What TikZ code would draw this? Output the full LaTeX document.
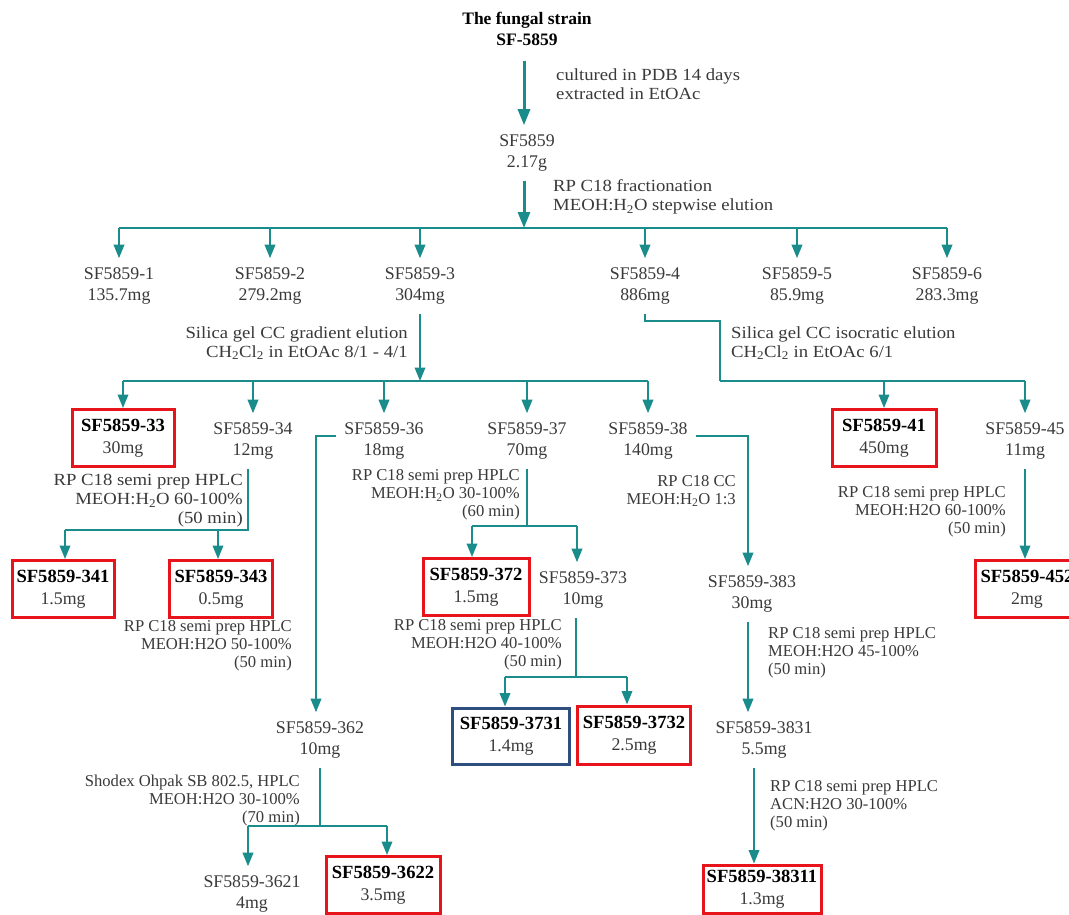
\documentclass[tikz,border=0pt]{standalone}
\usepackage{fontspec}
\setmainfont{Liberation Serif}
\newfontfamily\widefam{Liberation Serif}[FakeStretch=1.1]
\usetikzlibrary{arrows.meta}
\definecolor{tealc}{HTML}{1A8C8C}
\definecolor{redc}{HTML}{E8141C}
\definecolor{bluec}{HTML}{2E4E7E}
\definecolor{txtc}{HTML}{3A3A3A}
\newcommand{\nfont}{\fontsize{17.8}{21.5}\selectfont}
\newcommand{\lfont}{\fontsize{16.6}{18}\selectfont}
\newcommand{\tfont}{\widefam\fontsize{17}{19}\selectfont}
\newcommand{\bname}[1]{\textcolor{black}{\fontsize{18.6}{21.5}\selectfont\textbf{#1}}}
\newcommand{\sub}[1]{\textsubscript{#1}}
\begin{document}
\begin{tikzpicture}[x=1pt,y=-1pt,
  conn/.style={draw=tealc, line width=2pt},
  stem/.style={draw=tealc, line width=1.5pt},
  arr/.style={conn, -{Triangle[width=10.5pt,length=13.5pt]}},
  arrT/.style={draw=tealc, line width=3pt, -{Triangle[width=12pt,length=16pt]}},
  frac/.style={font=\nfont, text=txtc, align=center, inner xsep=2pt, inner ysep=9pt},
  lblR/.style={font=\lfont, text=txtc, align=right, inner sep=0pt, anchor=east},
  lblL/.style={font=\lfont, text=txtc, align=left, inner sep=0pt, anchor=west},
  hit/.style={font=\nfont, text=txtc, align=center, draw=redc, line width=3pt, inner sep=0pt, minimum width=#1, minimum height=57pt},
]
\useasboundingbox (0,0) rectangle (1069,914);
\fill[white] (0,0) rectangle (1069,914);

% ---- nodes ----
\node[frac, font=\fontsize{17.5}{21}\selectfont\bfseries, text=black] (title) at (527,29) {The fungal strain\\SF-5859};
\node[frac] (src) at (527,153) {SF5859\\2.17g};

\node[frac] (f1) at (119,286) {SF5859-1\\135.7mg};
\node[frac] (f2) at (270,286) {SF5859-2\\279.2mg};
\node[frac] (f3) at (420,286) {SF5859-3\\304mg};
\node[frac] (f4) at (645,286) {SF5859-4\\886mg};
\node[frac] (f5) at (797,286) {SF5859-5\\85.9mg};
\node[frac] (f6) at (947,286) {SF5859-6\\283.3mg};

\node[hit=102] (n33) at (123,438) {\bname{SF5859-33}\\30mg};
\node[frac] (n34) at (253,441) {SF5859-34\\12mg};
\node[frac] (n36) at (384,441) {SF5859-36\\18mg};
\node[frac] (n37) at (527,441) {SF5859-37\\70mg};
\node[frac] (n38) at (648,441) {SF5859-38\\140mg};
\node[hit=104] (n41) at (884,438) {\bname{SF5859-41}\\450mg};
\node[frac] (n45) at (1025,441) {SF5859-45\\11mg};

\node[hit=102] (n341) at (63,589) {\bname{SF5859-341}\\1.5mg};
\node[hit=103] (n343) at (221,589) {\bname{SF5859-343}\\0.5mg};
\node[hit=106] (n372) at (476,587) {\bname{SF5859-372}\\1.5mg};
\node[frac] (n373) at (583,590) {SF5859-373\\10mg};
\node[frac] (n383) at (752,594) {SF5859-383\\30mg};
\node[hit=104] (n452) at (1027,589) {\bname{SF5859-452}\\2mg};

\node[hit=117, draw=bluec, minimum height=56pt] (n3731) at (511,736) {\bname{SF5859-3731}\\1.4mg};
\node[hit=113, minimum height=58pt] (n3732) at (634,735) {\bname{SF5859-3732}\\2.5mg};
\node[frac] (n362) at (320,740) {SF5859-362\\10mg};
\node[frac] (n3831) at (764,740) {SF5859-3831\\5.5mg};

\node[frac] (n3621) at (252,894) {SF5859-3621\\4mg};
\node[hit=114] (n3622) at (383,885) {\bname{SF5859-3622}\\3.5mg};
\node[hit=118, minimum height=48pt] (n38311) at (762,889) {\bname{SF5859-38311}\\1.3mg};

% ---- labels ----
\node[lblL, font=\tfont] (l1) at (556,84) {cultured in PDB 14 days\\extracted in EtOAc};
\node[lblL, font=\tfont] (l2) at (553,197) {RP C18 fractionation\\MEOH:H\sub{2}O stepwise elution};
\node[lblR, font=\tfont, align=right] (l3) at (408,343) {Silica gel CC gradient elution\\CH\sub{2}Cl\sub{2} in EtOAc 8/1 - 4/1};
\node[lblL, font=\tfont] (l4) at (731,343) {Silica gel CC isocratic elution\\CH\sub{2}Cl\sub{2} in EtOAc 6/1};
\node[lblR, font=\tfont, align=right] (l5) at (243,501) {RP C18 semi prep HPLC\\MEOH:H\sub{2}O 60-100\%\\(50 min)};
\node[lblR] (l6) at (520,495) {RP C18 semi prep HPLC\\MEOH:H\sub{2}O 30-100\%\\(60 min)};
\node[lblR] (l7) at (736,491) {RP C18 CC\\MEOH:H\sub{2}O 1:3};
\node[lblR] (l8) at (1006,512) {RP C18 semi prep HPLC\\MEOH:H2O 60-100\%\\(50 min)};
\node[lblR] (l9) at (292,646) {RP C18 semi prep HPLC\\MEOH:H2O 50-100\%\\(50 min)};
\node[lblR] (l10) at (562,645) {RP C18 semi prep HPLC\\MEOH:H2O 40-100\%\\(50 min)};
\node[lblL] (l11) at (768,653) {RP C18 semi prep HPLC\\MEOH:H2O 45-100\%\\(50 min)};
\node[lblR] (l12) at (300,800) {Shodex Ohpak SB 802.5, HPLC\\MEOH:H2O 30-100\%\\(70 min)};
\node[lblL] (l13) at (770,806) {RP C18 semi prep HPLC\\ACN:H2O 30-100\%\\(50 min)};

% ---- coordinates ----
\coordinate (b1) at (524,228);
\coordinate (b2) at (420,381);
\coordinate (k1) at (720,321);
\coordinate (b3) at (720,381);
\coordinate (b4) at (248,530);
\coordinate (a341) at (65,530);
\coordinate (a343) at (218,530);
\coordinate (k2) at (316,436);
\coordinate (b5) at (527,526);
\coordinate (a372) at (472,526);
\coordinate (a373) at (577,526);
\coordinate (k3) at (748,436);
\coordinate (b6) at (576,677);
\coordinate (a3731) at (505,677);
\coordinate (a3732) at (627,677);
\coordinate (b7) at (320,826);
\coordinate (a3621) at (248,826);
\coordinate (a3622) at (387,826);
\coordinate (x3831) at (754,0);

% ---- connectors ----
\draw[arrT] (title.south -| b1) ++(0,6) -- (b1 |- src.north);
\draw[arrT] (src.south -| b1) -- (b1);
\draw[conn] (f1.north |- b1) -- (f6.north |- b1);
\foreach \n in {f1,f2,f3,f4,f5,f6} \draw[arr] (\n.north |- b1) -- (\n.north);

\draw[arr] (f3.south) -- (b2);
\draw[conn] (n33.north |- b2) -- (n38.north |- b2);
\foreach \n in {n33,n34,n36,n37,n38} \draw[arr] (\n.north |- b2) -- (\n.north);

\draw[stem] (f4.south) |- (k1) -- (b3);
\draw[conn] (b3) -- (n45.north |- b3);
\draw[arr] (n41.north |- b3) -- (n41.north);
\draw[arr] (n45.north |- b3) -- (n45.north);

\draw[stem] (b4 |- n34.south) -- (b4) -- (a341);
\draw[arr] (a341) -- (a341 |- n341.north);
\draw[arr] (a343) -- (a343 |- n343.north);

\draw[arr, shorten <=6pt] (n36.west |- k2) -- (k2) -- (k2 |- n362.north);

\draw[stem] (n37.south) -- (b5);
\draw[conn] (a372) -- (a373);
\draw[arr] (a372) -- (a372 |- n372.north);
\draw[arr] (a373) -- (a373 |- n373.north);

\draw[arr] ([xshift=6pt]n38.east |- k3) -- (k3) -- (k3 |- n383.north);

\draw[arr] (n45.south) -- (n45.south |- n452.north);

\draw[stem] (b6 |- n373.south) -- (b6);
\draw[conn] (a3731) -- (a3732);
\draw[arr] (a3731) -- (a3731 |- n3731.north);
\draw[arr] (a3732) -- (a3732 |- n3732.north);

\draw[arr] (k3 |- n383.south) -- (k3 |- n3831.north);

\draw[stem] (n362.south) -- (b7);
\draw[conn] (a3621) -- (a3622);
\draw[arr] (a3621) -- (a3621 |- n3621.north);
\draw[arr] (a3622) -- (a3622 |- n3622.north);

\draw[arr] (x3831 |- n3831.south) -- (x3831 |- n38311.north);
\end{tikzpicture}
\end{document}
